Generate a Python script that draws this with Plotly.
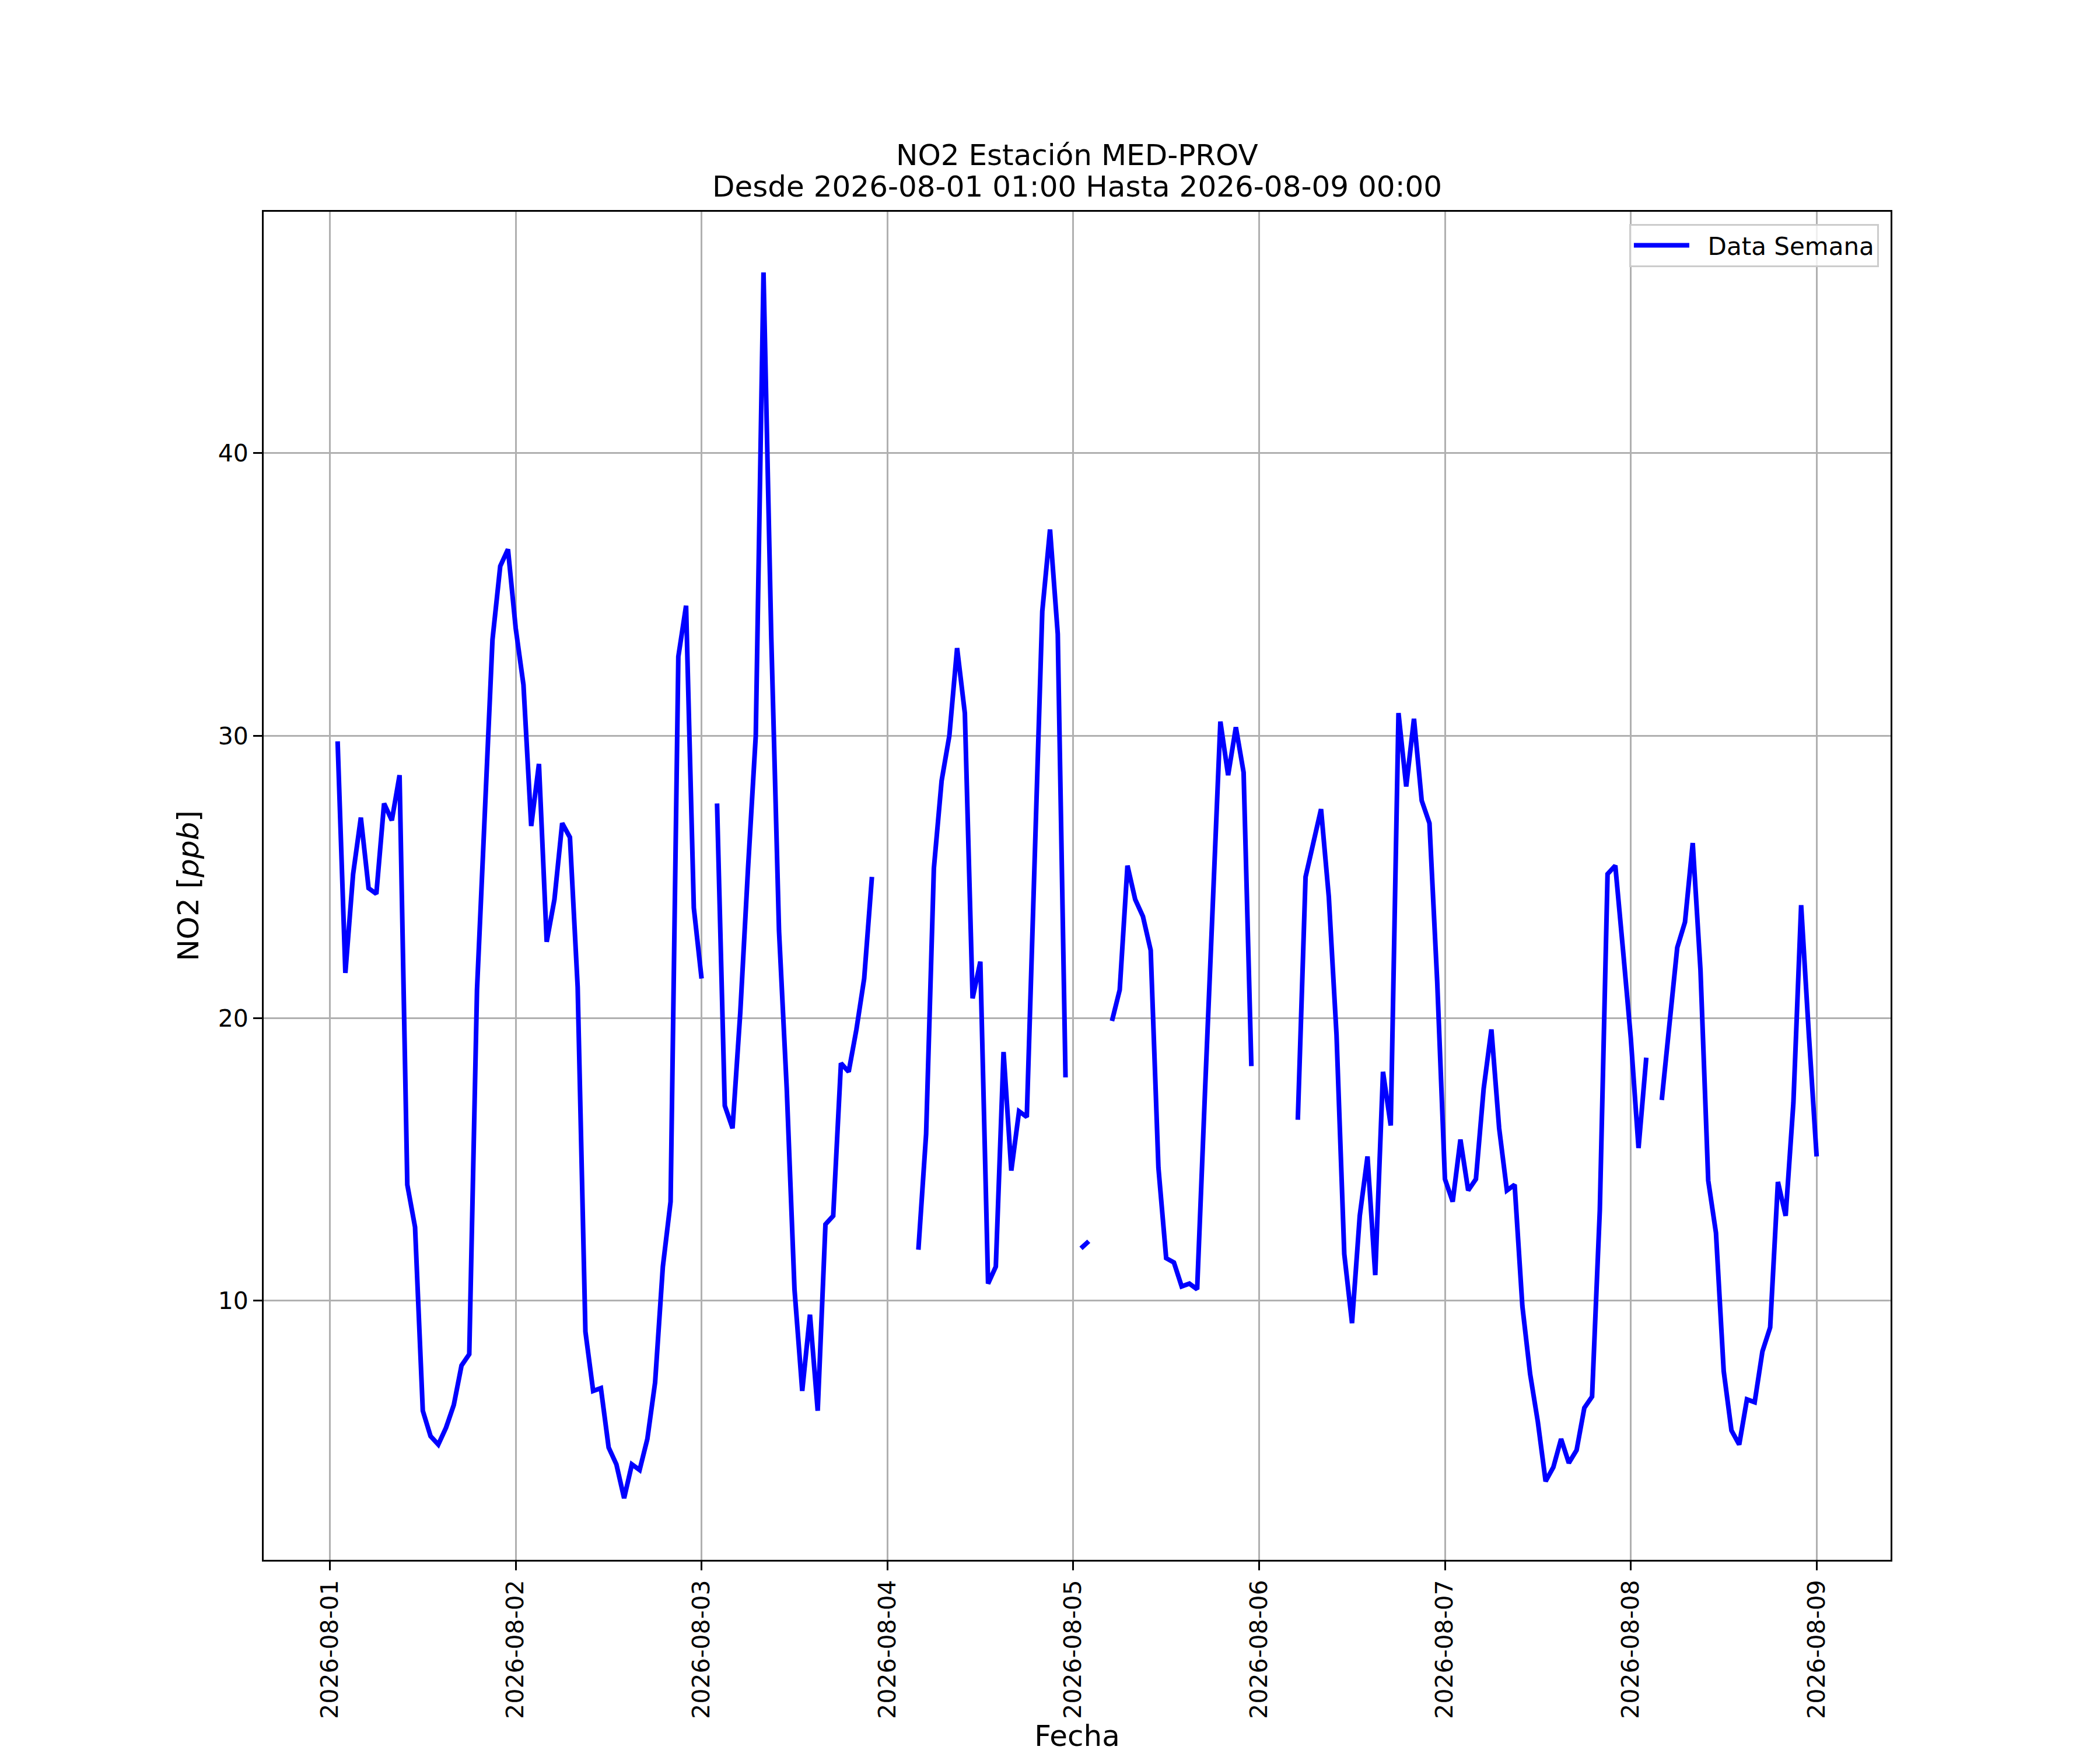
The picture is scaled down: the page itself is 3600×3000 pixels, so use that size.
import pandas as pd
import plotly.graph_objects as go

# hourly NO2 readings (ppb), 2026-08-01 01:00 .. 2026-08-09 00:00; None = missing hour
START = "2026-08-01 01:00"
END = "2026-08-09 00:00"

day1 = [29.8, 21.6, 25.1, 27.1, 24.6, 24.4, 27.6, 27.0, 28.6, 14.1, 12.6, 6.1,
        5.2, 4.9, 5.5, 6.3, 7.7, 8.1, 21.0, 27.4, 33.4, 36.0, 36.6, 33.8]
day2 = [31.8, 26.8, 29.0, 22.7, 24.2, 26.9, 26.4, 21.1, 8.9, 6.8, 6.9, 4.8,
        4.2, 3.0, 4.2, 4.0, 5.1, 7.1, 11.2, 13.5, 32.8, 34.6, 23.9, 21.4]
day3 = [None, 27.6, 16.9, 16.1, 20.2, 25.3, 30.0, 46.4, 33.5, 23.1, 17.5, 10.4,
        6.8, 9.5, 6.1, 12.7, 13.0, 18.4, 18.1, 19.6, 21.4, 25.0, None, None]
day4 = [None, None, None, 11.8, 15.9, 25.3, 28.4, 30.0, 33.1, 30.8, 20.7, 22.0,
        10.6, 11.2, 18.8, 14.6, 16.7, 16.5, 25.8, 34.4, 37.3, 33.6, 17.9, None]
day5 = [11.85, 12.1, None, None, 19.9, 21.0, 25.4, 24.2, 23.6, 22.4, 14.7, 11.5,
        11.35, 10.5, 10.6, 10.4, 17.3, 24.2, 30.5, 28.6, 30.3, 28.7, 18.3, None]
day6 = [None, None, None, None, 16.4, 25.0, 26.2, 27.4, 24.3, 19.4, 11.65, 9.2,
        13.0, 15.1, 10.9, 18.1, 16.2, 30.8, 28.2, 30.6, 27.7, 26.9, 21.3, 14.3]
day7 = [13.5, 15.7, 13.9, 14.3, 17.5, 19.6, 16.1, 13.9, 14.1, 9.8, 7.4, 5.7,
        3.6, 4.1, 5.1, 4.25, 4.7, 6.2, 6.6, 13.2, 25.1, 25.4, 22.4, 19.3]
day8 = [15.4, 18.6, None, 17.1, 19.9, 22.5, 23.4, 26.2, 21.7, 14.25, 12.4, 7.5,
        5.4, 4.9, 6.5, 6.4, 8.2, 9.05, 14.2, 13.0, 17.0, 24.0, 19.4, 15.1]

no2 = day1 + day2 + day3 + day4 + day5 + day6 + day7 + day8
fechas = pd.date_range(START, END, freq="h")

titulo = ["NO2 Estación MED-PROV", f"Desde {START} Hasta {END}"]

Y_RANGE = [0.82, 48.55]

span = fechas[-1] - fechas[0]
x_range = [fechas[0] - 0.05 * span, fechas[-1] + 0.05 * span]

FONT = "DejaVu Sans"

fig = go.Figure()
fig.add_trace(go.Scatter(
    x=fechas, y=no2, mode="lines",
    name="\u00a0\u00a0Data Semana",  # nbsp gap between sample line and text, like mpl
    line={"color": "#0000ff", "width": 8}, connectgaps=False,
))

axis_common = dict(
    showline=True, linecolor="black", linewidth=3, mirror=True,
    ticks="outside", ticklen=15, tickwidth=3, tickcolor="black",
    showgrid=True, gridcolor="#b0b0b0", gridwidth=3,
    zeroline=False, automargin=False,
    tickfont={"size": 41, "color": "black", "family": FONT},
)

fig.update_xaxes(
    type="date", range=x_range, tick0="2026-08-01", dtick=86400000,
    tickformat="%Y-%m-%d", tickangle=-90,
    title={"text": "Fecha", "font": {"size": 50, "color": "black", "family": FONT},
           "standoff": 12},
    **axis_common,
)
fig.update_yaxes(
    range=Y_RANGE, tick0=0, dtick=10,
    title={"text": "NO2 [<i>ppb</i>]", "font": {"size": 50, "color": "black", "family": FONT},
           "standoff": 18},
    **axis_common,
)

# two-line title, matplotlib-like tight line spacing
for texto, shift in zip(titulo, [97, 43]):
    fig.add_annotation(
        text=texto, x=0.5, y=1, xref="paper", yref="paper",
        xanchor="center", yanchor="middle", yshift=shift, showarrow=False,
        font={"size": 50, "color": "black", "family": FONT},
    )

fig.update_layout(
    width=3600, height=3000,
    margin={"l": 444, "r": 367, "t": 355, "b": 334},
    paper_bgcolor="white", plot_bgcolor="white",
    font={"family": FONT, "color": "black"},
    showlegend=True,
    legend={
        "x": 0.9928, "y": 0.991, "xanchor": "right", "yanchor": "top",
        "bgcolor": "rgba(255,255,255,0.8)", "bordercolor": "#cccccc", "borderwidth": 3,
        "font": {"size": 42, "color": "black", "family": FONT},
        "itemwidth": 95,
    },
)

fig.write_html("out.html")
